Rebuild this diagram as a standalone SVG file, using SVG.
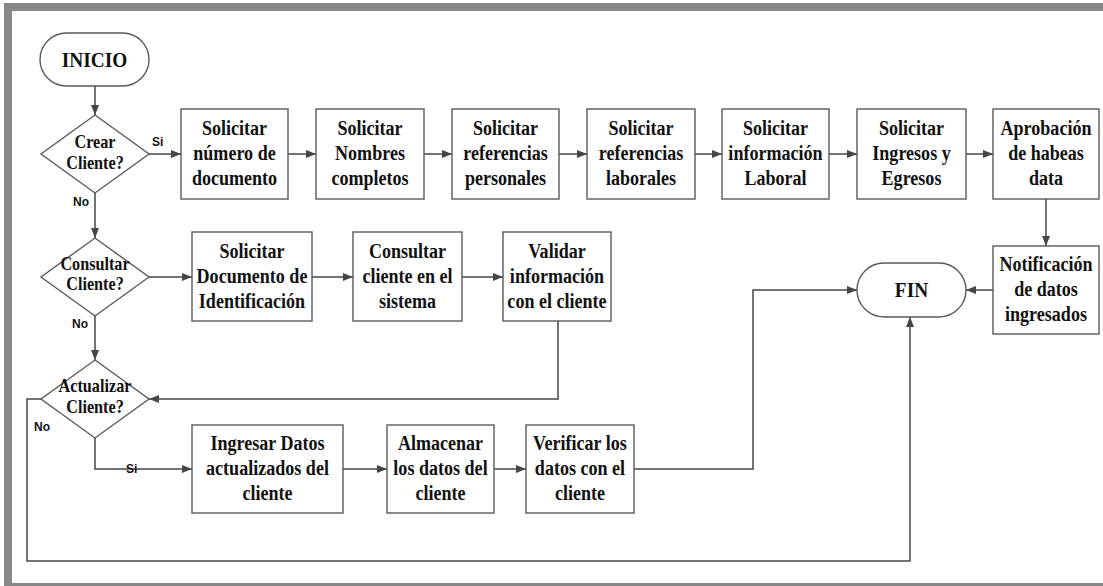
<svg xmlns="http://www.w3.org/2000/svg" width="1103" height="586" viewBox="0 0 1103 586">
  <defs>
    <marker id="ah" viewBox="0 0 10 8" refX="10" refY="4" markerWidth="10" markerHeight="8" markerUnits="userSpaceOnUse" orient="auto">
      <path d="M0,0 L10,4 L0,8 z" fill="#454545"/>
    </marker>
    <style>
      .box { fill: #ffffff; stroke: #5a5a5a; stroke-width: 1.4; }
      .t { font-family: "Liberation Serif", "Times New Roman", serif; font-weight: bold; font-size: 21px; fill: #111111; text-anchor: middle; }
      .td { font-family: "Liberation Serif", "Times New Roman", serif; font-weight: bold; font-size: 18px; fill: #111111; text-anchor: middle; }
      .lbl { font-family: "Liberation Sans", Arial, sans-serif; font-weight: bold; font-size: 12px; fill: #111111; }
      .c { fill: none; stroke: #454545; stroke-width: 1.5; }
      .ca { fill: none; stroke: #454545; stroke-width: 1.5; marker-end: url(#ah); }
    </style>
  </defs>

  <rect width="1103" height="586" fill="#ffffff"/>
  <!-- outer frame -->
  <rect x="8" y="7" width="1110" height="580" fill="none" stroke="#888888" stroke-width="8"/>

  <!-- connectors -->
  <g id="connectors">
    <path class="ca" d="M95,86 V115"/>
    <path class="ca" d="M149,154 H181"/>
    <path class="ca" d="M288,154 H316"/>
    <path class="ca" d="M424,154 H452"/>
    <path class="ca" d="M559,154 H587"/>
    <path class="ca" d="M695,154 H722"/>
    <path class="ca" d="M829,154 H857"/>
    <path class="ca" d="M966,154 H993"/>
    <path class="ca" d="M1046,199 V246"/>
    <path class="ca" d="M993,290 H966"/>
    <path class="ca" d="M95,193 V238"/>
    <path class="ca" d="M149,277 H192"/>
    <path class="ca" d="M312,277 H353"/>
    <path class="ca" d="M462,277 H503"/>
    <path class="ca" d="M558,321 V399 H149"/>
    <path class="ca" d="M95,316 V360"/>
    <path class="ca" d="M95,438 V469 H192"/>
    <path class="ca" d="M343,469 H387"/>
    <path class="ca" d="M494,469 H526"/>
    <path class="ca" d="M634,469 H753 V290 H857"/>
    <path class="ca" d="M41,399 H27 V561 H910 V317"/>
    <text class="lbl" x="152" y="146">Si</text>
    <text class="lbl" x="73" y="206">No</text>
    <text class="lbl" x="72" y="328">No</text>
    <text class="lbl" x="34" y="431">No</text>
    <text class="lbl" x="126" y="473">Si</text>
  </g>

  <g id="inicio">
    <rect class="box" x="40" y="33" width="109" height="53" rx="26.5"/>
    <text class="t" style="font-size:22px" transform="translate(94.5 0) scale(0.88 1)" x="0" y="67">INICIO</text>
  </g>

  <g id="fin">
    <rect class="box" x="857" y="263" width="109" height="54" rx="27"/>
    <text class="t" style="font-size:22px" transform="translate(911.5 0) scale(0.88 1)" x="0" y="297">FIN</text>
  </g>

  <g id="crear-cliente">
    <polygon class="box" points="95,115 149,154 95,193 41,154"/>
    <text class="td" transform="translate(95 0) scale(0.9 1)"><tspan x="0" y="148">Crear</tspan><tspan x="0" y="169">Cliente?</tspan></text>
  </g>

  <g id="consultar-cliente">
    <polygon class="box" points="95,238 149,277 95,316 41,277"/>
    <text class="td" transform="translate(95 0) scale(0.9 1)"><tspan x="0" y="270">Consultar</tspan><tspan x="0" y="290">Cliente?</tspan></text>
  </g>

  <g id="actualizar-cliente">
    <polygon class="box" points="95,360 149,399 95,438 41,399"/>
    <text class="td" transform="translate(95 0) scale(0.9 1)"><tspan x="0" y="392">Actualizar</tspan><tspan x="0" y="413">Cliente?</tspan></text>
  </g>

  <!-- row 1 -->
  <g id="numero-documento">
    <rect class="box" x="181" y="109" width="107" height="90"/>
    <text class="t" transform="translate(234.5 0) scale(0.86 1)"><tspan x="0" y="135">Solicitar</tspan><tspan x="0" y="160">número de</tspan><tspan x="0" y="185">documento</tspan></text>
  </g>
  <g id="nombres">
    <rect class="box" x="316" y="109" width="108" height="90"/>
    <text class="t" transform="translate(370 0) scale(0.86 1)"><tspan x="0" y="135">Solicitar</tspan><tspan x="0" y="160">Nombres</tspan><tspan x="0" y="185">completos</tspan></text>
  </g>
  <g id="ref-personales">
    <rect class="box" x="452" y="109" width="107" height="90"/>
    <text class="t" transform="translate(505.5 0) scale(0.86 1)"><tspan x="0" y="135">Solicitar</tspan><tspan x="0" y="160">referencias</tspan><tspan x="0" y="185">personales</tspan></text>
  </g>
  <g id="ref-laborales">
    <rect class="box" x="587" y="109" width="108" height="90"/>
    <text class="t" transform="translate(641 0) scale(0.86 1)"><tspan x="0" y="135">Solicitar</tspan><tspan x="0" y="160">referencias</tspan><tspan x="0" y="185">laborales</tspan></text>
  </g>
  <g id="info-laboral">
    <rect class="box" x="722" y="109" width="107" height="90"/>
    <text class="t" transform="translate(775.5 0) scale(0.86 1)"><tspan x="0" y="135">Solicitar</tspan><tspan x="0" y="160">información</tspan><tspan x="0" y="185">Laboral</tspan></text>
  </g>
  <g id="ingresos-egresos">
    <rect class="box" x="857" y="109" width="109" height="90"/>
    <text class="t" transform="translate(911.5 0) scale(0.86 1)"><tspan x="0" y="135">Solicitar</tspan><tspan x="0" y="160">Ingresos y</tspan><tspan x="0" y="185">Egresos</tspan></text>
  </g>
  <g id="habeas-data">
    <rect class="box" x="993" y="109" width="106" height="90"/>
    <text class="t" transform="translate(1046 0) scale(0.86 1)"><tspan x="0" y="135">Aprobación</tspan><tspan x="0" y="160">de habeas</tspan><tspan x="0" y="185">data</tspan></text>
  </g>
  <g id="notificacion">
    <rect class="box" x="993" y="246" width="106" height="88"/>
    <text class="t" transform="translate(1046 0) scale(0.86 1)"><tspan x="0" y="271">Notificación</tspan><tspan x="0" y="296">de datos</tspan><tspan x="0" y="321">ingresados</tspan></text>
  </g>

  <!-- row 2 -->
  <g id="documento-identificacion">
    <rect class="box" x="192" y="232" width="120" height="89"/>
    <text class="t" transform="translate(252 0) scale(0.86 1)"><tspan x="0" y="258">Solicitar</tspan><tspan x="0" y="283">Documento de</tspan><tspan x="0" y="308">Identificación</tspan></text>
  </g>
  <g id="consultar-sistema">
    <rect class="box" x="353" y="232" width="109" height="89"/>
    <text class="t" transform="translate(407.5 0) scale(0.86 1)"><tspan x="0" y="258">Consultar</tspan><tspan x="0" y="283">cliente en el</tspan><tspan x="0" y="308">sistema</tspan></text>
  </g>
  <g id="validar">
    <rect class="box" x="503" y="232" width="108" height="89"/>
    <text class="t" transform="translate(557 0) scale(0.86 1)"><tspan x="0" y="258">Validar</tspan><tspan x="0" y="283">información</tspan><tspan x="0" y="308">con el cliente</tspan></text>
  </g>

  <!-- row 3 -->
  <g id="ingresar-datos">
    <rect class="box" x="192" y="425" width="151" height="88"/>
    <text class="t" transform="translate(267.5 0) scale(0.86 1)"><tspan x="0" y="450">Ingresar Datos</tspan><tspan x="0" y="475">actualizados del</tspan><tspan x="0" y="500">cliente</tspan></text>
  </g>
  <g id="almacenar">
    <rect class="box" x="387" y="425" width="107" height="88"/>
    <text class="t" transform="translate(440.5 0) scale(0.86 1)"><tspan x="0" y="450">Almacenar</tspan><tspan x="0" y="475">los datos del</tspan><tspan x="0" y="500">cliente</tspan></text>
  </g>
  <g id="verificar">
    <rect class="box" x="526" y="425" width="108" height="88"/>
    <text class="t" transform="translate(580 0) scale(0.86 1)"><tspan x="0" y="450">Verificar los</tspan><tspan x="0" y="475">datos con el</tspan><tspan x="0" y="500">cliente</tspan></text>
  </g>
</svg>
